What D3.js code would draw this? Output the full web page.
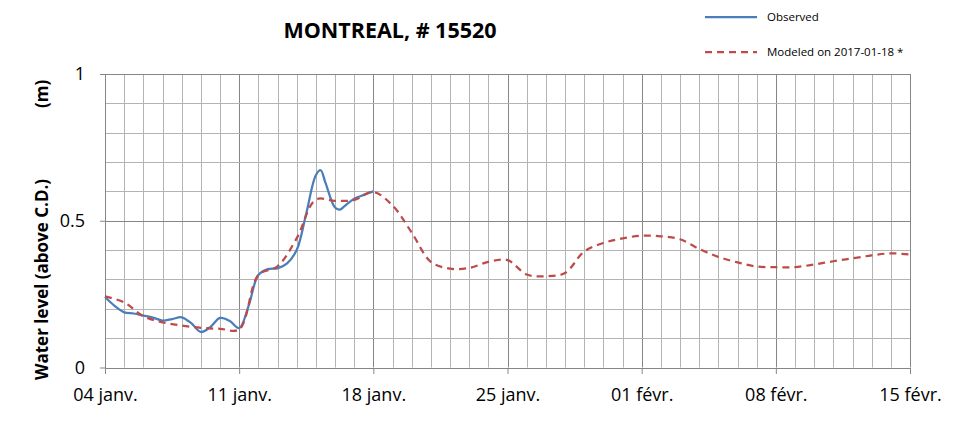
<!DOCTYPE html>
<html>
<head>
<meta charset="utf-8">
<script src="https://cdn.jsdelivr.net/npm/d3@7"></script>
<style>
  body { margin: 0; background: #fff; }
  svg { display: block; font-family: "Open Sans", "DejaVu Sans", sans-serif; }
</style>
</head>
<body>
<div id="chart-area"></div>
<script>
// ---------------------------//
//            DATA            //
// ---------------------------//

const startDate = "2017-01-04"
const endDate = "2017-02-15"
const tickDates = ["2017-01-04", "2017-01-11", "2017-01-18", "2017-01-25",
                   "2017-02-01", "2017-02-08", "2017-02-15"]
const yTicks = [0, 0.5, 1]

// observed: offset in days from startDate, water level (m)
const obsDay = [0, 0.5, 1, 1.5, 2, 2.5, 3, 3.5, 4, 4.5, 5, 5.5, 6, 6.5, 7, 7.5,
                8, 8.5, 9, 9.5, 10, 10.5, 11, 11.25, 11.5, 12, 12.25, 12.5, 13, 13.5, 14]
const obsLevel = [0.240, 0.210, 0.188, 0.184, 0.177, 0.170, 0.160, 0.165, 0.171, 0.151,
                  0.121, 0.138, 0.169, 0.159, 0.134, 0.212, 0.315, 0.335, 0.338, 0.355,
                  0.400, 0.525, 0.655, 0.672, 0.630, 0.545, 0.538, 0.550, 0.575, 0.588, 0.600]

// modeled on 2017-01-18: one value per day from startDate
const modLevel = [0.242, 0.222, 0.175, 0.154, 0.143, 0.135, 0.132, 0.130, 0.315, 0.345,
                  0.440, 0.572, 0.568, 0.571, 0.598, 0.552, 0.460, 0.360, 0.337, 0.339,
                  0.360, 0.366, 0.317, 0.311, 0.322, 0.395, 0.424, 0.440, 0.449, 0.447,
                  0.437, 0.404, 0.377, 0.358, 0.344, 0.342, 0.342, 0.351, 0.362, 0.372,
                  0.382, 0.389, 0.385]

const seriesNames = ["Observed", "Modeled on 2017-01-18 *"]
const seriesColors = ["#4a7ebb", "#be4b48"]

// ---------------------------//
//           LAYOUT           //
// ---------------------------//

const W = 969, H = 421
const PLOT = {left: 105, right: 910, top: 74, bottom: 367.5}

const parse = d3.timeParse("%Y-%m-%d")
const t0 = parse(startDate), t1 = parse(endDate)

const fr = d3.timeFormatLocale({
    dateTime: "%A %e %B %Y à %X", date: "%d/%m/%Y", time: "%H:%M:%S",
    periods: ["AM", "PM"],
    days: ["dimanche", "lundi", "mardi", "mercredi", "jeudi", "vendredi", "samedi"],
    shortDays: ["dim.", "lun.", "mar.", "mer.", "jeu.", "ven.", "sam."],
    months: ["janvier", "février", "mars", "avril", "mai", "juin", "juillet",
             "août", "septembre", "octobre", "novembre", "décembre"],
    shortMonths: ["janv.", "févr.", "mars", "avr.", "mai", "juin", "juil.",
                  "août", "sept.", "oct.", "nov.", "déc."]
})

const svg = d3.select("#chart-area").append("svg")
    .attr("width", W)
    .attr("height", H)

svg.append("rect").attr("width", W).attr("height", H).attr("fill", "#fff")

const x = d3.scaleTime().domain([t0, t1]).range([PLOT.left, PLOT.right])
const y = d3.scaleLinear().domain([0, 1]).range([PLOT.bottom, PLOT.top])

const crisp = v => Math.round(v) + 0.5

// ---------------------------//
//            GRID            //
// ---------------------------//

const grid = svg.append("g")
const majorDays = tickDates.map(d => +parse(d))

d3.timeDay.range(t0, d3.timeDay.offset(t1, 1)).forEach(d => {
    const major = majorDays.includes(+d)
    grid.append("line")
        .attr("x1", crisp(x(d))).attr("x2", crisp(x(d)))
        .attr("y1", y(1)).attr("y2", y(0))
        .attr("stroke", major ? "#868686" : "#b3b3b3")
        .attr("stroke-width", 1)
})

y.ticks(10).forEach(v => {
    const major = yTicks.includes(v)
    grid.append("line")
        .attr("x1", PLOT.left).attr("x2", PLOT.right)
        .attr("y1", crisp(y(v))).attr("y2", crisp(y(v)))
        .attr("stroke", major ? "#868686" : "#b3b3b3")
        .attr("stroke-width", 1)
})

// ---------------------------//
//            AXES            //
// ---------------------------//

const xAxis = svg.append("g")
    .attr("transform", `translate(0,${crisp(y(0)) - 0.5})`)
    .call(d3.axisBottom(x)
        .tickValues(tickDates.map(parse))
        .tickFormat(fr.format("%d %b"))
        .tickSize(6)
        .tickPadding(14)
        .tickSizeOuter(0))

const yAxis = svg.append("g")
    .attr("transform", `translate(${crisp(x(t0)) - 0.5},0)`)
    .call(d3.axisLeft(y)
        .tickValues(yTicks)
        .tickFormat(d => d)
        .tickSize(5)
        .tickPadding(15)
        .tickSizeOuter(0))

;[xAxis, yAxis].forEach(ax => {
    ax.select(".domain").attr("stroke", "#868686")
    ax.selectAll(".tick line").attr("stroke", "#868686")
    ax.selectAll("text")
        .attr("fill", "#000")
        .style("font-size", "18px")
        .style("font-family", "'Open Sans', sans-serif")
})

// ---------------------------//
//           SERIES           //
// ---------------------------//

const line = d3.line()
    .x(d => x(d[0]))
    .y(d => y(d[1]))
    .curve(d3.curveCatmullRom.alpha(0.5))

const obsPts = obsDay.map((d, i) => [new Date(+t0 + d * 864e5), obsLevel[i]])
const modPts = modLevel.map((v, i) => [d3.timeDay.offset(t0, i), v])

svg.append("path")
    .datum(obsPts)
    .attr("d", line)
    .attr("fill", "none")
    .attr("stroke", seriesColors[0])
    .attr("stroke-width", 2.25)
    .attr("stroke-linejoin", "round")

svg.append("path")
    .datum(modPts)
    .attr("d", line)
    .attr("fill", "none")
    .attr("stroke", seriesColors[1])
    .attr("stroke-width", 2.25)
    .attr("stroke-dasharray", "7,5")

// ---------------------------//
//      TITLE AND LEGEND      //
// ---------------------------//

svg.append("text")
    .attr("x", 390).attr("y", 38)
    .attr("text-anchor", "middle")
    .style("font-size", "21.5px")
    .style("font-weight", "bold")
    .text("MONTREAL, # 15520")

const yTitle = svg.append("g").attr("transform", "translate(48,0) rotate(-90)")
yTitle.append("text")
    .attr("x", -380).attr("y", 0)
    .style("font-size", "17px")
    .style("font-weight", "bold")
    .text("Water level (above C.D.)")
yTitle.append("text")
    .attr("x", -108).attr("y", 0)
    .style("font-size", "17px")
    .style("font-weight", "bold")
    .text("(m)")

const legendY = [17, 52]
seriesNames.forEach((name, i) => {
    svg.append("line")
        .attr("x1", 705).attr("x2", 757)
        .attr("y1", legendY[i]).attr("y2", legendY[i])
        .attr("stroke", seriesColors[i])
        .attr("stroke-width", 2.25)
        .attr("stroke-dasharray", i === 1 ? "7,5" : null)
    svg.append("text")
        .attr("x", 767).attr("y", legendY[i] + 4)
        .style("font-size", "11.5px")
        .text(name)
})
</script>
</body>
</html>
